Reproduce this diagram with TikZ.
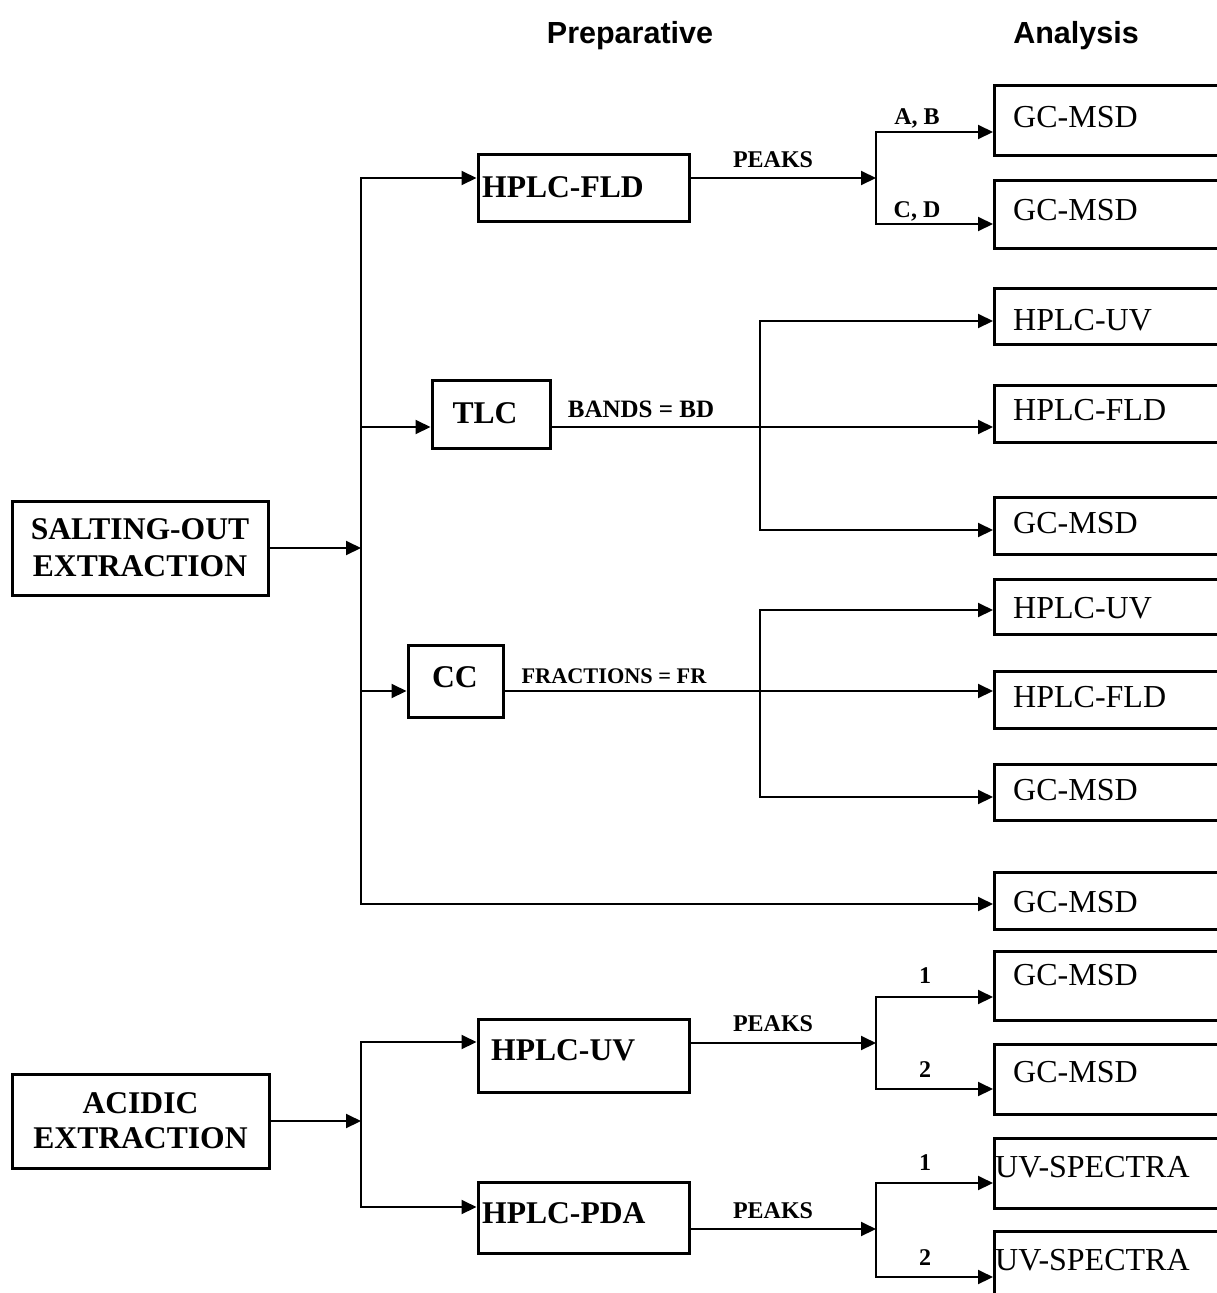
\documentclass[tikz,border=0pt]{standalone}
\usepackage{fontspec}
\setmainfont{Liberation Serif}
\newfontfamily\hdrfont{Liberation Sans}
\usetikzlibrary{arrows.meta}
\begin{document}
\begin{tikzpicture}[x=1pt,y=-1pt,
  >={Triangle[length=15pt,width=14pt]},
  conn/.style={line width=2pt,line join=miter},
  arr/.style={conn,->},
  arr2/.style={conn,<->},
  box/.style={draw,line width=3pt,rectangle,inner sep=0pt},
  srcbox/.style={box,align=center,font=\bfseries\fontsize{31.6}{37}\selectfont},
  abox/.style={box,anchor=north west,minimum width=280pt},
  btext/.style={font=\bfseries\fontsize{31.6}{34}\selectfont,inner sep=0pt,anchor=base west},
  ctext/.style={font=\bfseries\fontsize{31.6}{34}\selectfont,inner sep=0pt,anchor=base},
  atext/.style={font=\fontsize{32}{34}\selectfont,inner sep=0pt,anchor=base west},
  lab/.style={font=\bfseries\fontsize{24}{26}\selectfont,inner sep=0pt,anchor=base},
  slab/.style={font=\bfseries\fontsize{22.3}{24}\selectfont,inner sep=0pt,anchor=base},
  hdr/.style={font=\hdrfont\bfseries\fontsize{30.5}{34}\selectfont,inner sep=0pt,anchor=base}
]
\clip (0,0) rectangle (1217,1293);
\fill[white] (0,0) rectangle (1217,1293);

% headers
\node[hdr] (hprep) at (630,43) {Preparative};
\node[hdr] (hana) at (1076,43) {Analysis};

% source boxes
\node[srcbox,minimum width=256pt,minimum height=94pt] (salt) at (140,548) {SALTING-OUT\\EXTRACTION};
\node[srcbox,minimum width=257pt,minimum height=94pt,font=\bfseries\fontsize{31.6}{35}\selectfont] (acid) at (140.5,1121) {ACIDIC\\EXTRACTION};

% preparative boxes
\node[box,minimum width=211pt,minimum height=67pt] (fld) at (583.5,187.5) {};
\node[btext] (fldt) at (482,197) {HPLC-FLD};
\node[box,minimum width=118pt,minimum height=68pt] (tlc) at (491,414) {};
\node[ctext] (tlct) at (485,423) {TLC};
\node[box,minimum width=95pt,minimum height=72pt] (cc) at (455.5,681) {};
\node[ctext] (cct) at (455,687) {CC};
\node[box,minimum width=211pt,minimum height=73pt] (huv) at (583.5,1055.5) {};
\node[btext] (huvt) at (491,1060) {HPLC-UV};
\node[box,minimum width=211pt,minimum height=71pt] (hpda) at (583.5,1217.5) {};
\node[btext] (hpdat) at (482,1223) {HPLC-PDA};

% analysis boxes
\node[abox,minimum height=70pt] (a1) at (993,84) {};
\node[atext] (t1) at (1013,127) {GC-MSD};
\node[abox,minimum height=68pt] (a2) at (993,179) {};
\node[atext] (t2) at (1013,220) {GC-MSD};
\node[abox,minimum height=56pt] (a3) at (993,287) {};
\node[atext] (t3) at (1013,330) {HPLC-UV};
\node[abox,minimum height=57pt] (a4) at (993,384) {};
\node[atext] (t4) at (1013,420) {HPLC-FLD};
\node[abox,minimum height=57pt] (a5) at (993,496) {};
\node[atext] (t5) at (1013,533) {GC-MSD};
\node[abox,minimum height=55pt] (a6) at (993,578) {};
\node[atext] (t6) at (1013,618) {HPLC-UV};
\node[abox,minimum height=57pt] (a7) at (993,670) {};
\node[atext] (t7) at (1013,707) {HPLC-FLD};
\node[abox,minimum height=56pt] (a8) at (993,763) {};
\node[atext] (t8) at (1013,800) {GC-MSD};
\node[abox,minimum height=57pt] (a9) at (993,871) {};
\node[atext] (t9) at (1013,912) {GC-MSD};
\node[abox,minimum height=69pt] (a10) at (993,950) {};
\node[atext] (t10) at (1013,985) {GC-MSD};
\node[abox,minimum height=70pt] (a11) at (993,1043) {};
\node[atext] (t11) at (1013,1082) {GC-MSD};
\node[abox,minimum height=70pt] (a12) at (993,1137) {};
\node[atext] (t12) at (995,1177) {UV-SPECTRA};
\node[abox,minimum height=80pt] (a13) at (993,1230) {};
\node[atext] (t13) at (995,1270) {UV-SPECTRA};

% salting-out trunk
\coordinate (ttop) at (361,178);
\coordinate (tbot) at (361,904);
\coordinate (ttlc) at (361,427);
\coordinate (tcc) at (361,691);
\draw[arr2] (fld.west |- ttop) -- (ttop) -- (tbot) -- (a9.west |- tbot);
\draw[arr] (salt.east) -- (salt.east -| ttop);
\draw[arr] (ttlc) -- (tlc.west |- ttlc);
\draw[arr] (tcc) -- (cc.west |- tcc);

% HPLC-FLD peaks
\coordinate (f1m) at (876,178);
\coordinate (f1a) at (876,132);
\coordinate (f1b) at (876,224);
\draw[arr] (fld.east |- f1m) -- (f1m);
\draw[arr2] (a1.west |- f1a) -- (f1a) -- (f1b) -- (a2.west |- f1b);

% TLC bands
\coordinate (b1) at (760,321);
\coordinate (b3) at (760,530);
\draw[arr] (tlc.east |- ttlc) -- (a4.west |- ttlc);
\draw[arr2] (a3.west |- b1) -- (b1) -- (b3) -- (a5.west |- b3);

% CC fractions
\coordinate (c1) at (760,610);
\coordinate (c3) at (760,797);
\draw[arr] (cc.east |- tcc) -- (a7.west |- tcc);
\draw[arr2] (a6.west |- c1) -- (c1) -- (c3) -- (a8.west |- c3);

% acidic trunk
\coordinate (u1) at (361,1042);
\coordinate (u2) at (361,1207);
\draw[arr2] (huv.west |- u1) -- (u1) -- (u2) -- (hpda.west |- u2);
\draw[arr] (acid.east) -- (acid.east -| u1);

\coordinate (f2m) at (876,1043);
\coordinate (f2a) at (876,997);
\coordinate (f2b) at (876,1089);
\draw[arr] (huv.east |- f2m) -- (f2m);
\draw[arr2] (a10.west |- f2a) -- (f2a) -- (f2b) -- (a11.west |- f2b);

\coordinate (f3m) at (876,1229);
\coordinate (f3a) at (876,1183);
\coordinate (f3b) at (876,1277);
\draw[arr] (hpda.east |- f3m) -- (f3m);
\draw[arr2] (a12.west |- f3a) -- (f3a) -- (f3b) -- (a13.west |- f3b);

% labels
\node[lab] (l1) at (773,167) {PEAKS};
\node[lab] (l2) at (917,124) {A, B};
\node[lab] (l3) at (917,217) {C, D};
\node[slab,font=\bfseries\fontsize{25}{27}\selectfont] (l4) at (641,417) {BANDS = BD};
\node[slab] (l5) at (614,683) {FRACTIONS = FR};
\node[lab] (l6) at (773,1031) {PEAKS};
\node[lab] (l7) at (773,1218) {PEAKS};
\node[lab] (l8) at (925,983) {1};
\node[lab] (l9) at (925,1077) {2};
\node[lab] (l10) at (925,1170) {1};
\node[lab] (l11) at (925,1265) {2};
\end{tikzpicture}
\end{document}
